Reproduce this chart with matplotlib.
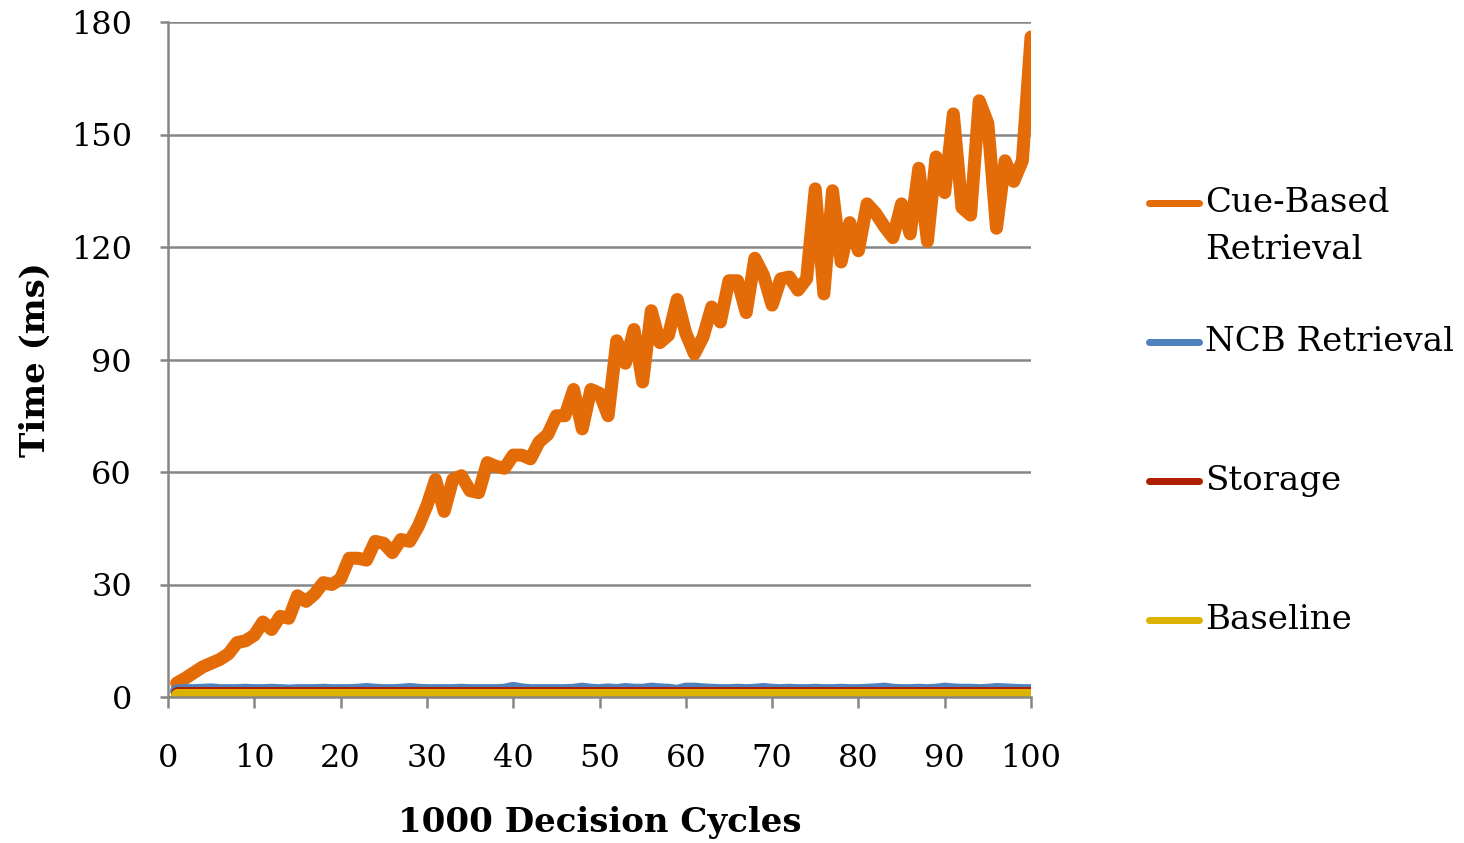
import matplotlib
matplotlib.use("Agg")
import matplotlib.pyplot as plt
from matplotlib.lines import Line2D

plt.rcParams['font.family'] = ['DejaVu Serif']

cycles = list(range(1, 101))

cue_based = [
    3.7, 5.0, 6.5, 8.0, 9.0, 10.0, 11.5, 14.5, 15.0, 16.5,
    20.0, 18.0, 21.5, 21.0, 27.0, 25.5, 27.5, 30.5, 30.0, 31.5,
    37.0, 37.0, 36.5, 41.5, 41.0, 38.5, 42.0, 41.5, 45.5, 51.0,
    58.0, 49.5, 58.0, 59.0, 55.0, 54.5, 62.5, 61.5, 61.0, 64.5,
    64.5, 63.5, 68.0, 70.0, 75.0, 75.0, 82.0, 71.5, 82.0, 81.0,
    75.0, 95.0, 89.0, 98.0, 84.0, 103.0, 94.5, 96.5, 106.0, 97.0,
    91.5, 96.0, 104.0, 100.0, 111.0, 111.0, 102.5, 117.0, 112.5, 104.5,
    111.5, 112.0, 108.5, 111.5, 135.5, 107.5, 135.0, 116.0, 126.5, 119.0,
    131.5, 129.0, 125.5, 122.5, 131.5, 123.5, 141.0, 121.5, 144.0, 134.5,
    155.5, 130.5, 128.5, 159.0, 153.0, 125.0, 143.0, 137.5, 143.0, 176.0,
]

ncb_retrieval = [
    1.6, 1.7, 1.7, 1.8, 1.9, 1.7, 1.7, 1.7, 1.8, 1.7,
    1.7, 1.8, 1.7, 1.6, 1.7, 1.7, 1.7, 1.8, 1.7, 1.7,
    1.7, 1.8, 2.0, 1.8, 1.7, 1.7, 1.8, 2.0, 1.8, 1.7,
    1.7, 1.7, 1.7, 1.8, 1.7, 1.7, 1.7, 1.7, 1.8, 2.3,
    1.9, 1.7, 1.7, 1.7, 1.7, 1.7, 1.8, 2.1, 1.8, 1.7,
    1.9, 1.7, 2.0, 1.8, 1.8, 2.1, 1.9, 1.8, 1.5, 2.1,
    2.1, 1.9, 1.8, 1.7, 1.7, 1.8, 1.7, 1.8, 2.0, 1.8,
    1.7, 1.8, 1.7, 1.7, 1.8, 1.7, 1.7, 1.8, 1.7, 1.7,
    1.8, 1.9, 2.1, 1.8, 1.7, 1.7, 1.8, 1.7, 1.8, 2.1,
    1.9, 1.8, 1.8, 1.7, 1.8, 2.0, 1.9, 1.8, 1.7, 1.7,
]

storage = [1.0] * 100
baseline = [0.5] * 100

series_labels = ["Cue-Based\nRetrieval", "NCB Retrieval", "Storage", "Baseline"]
series_colors = ["#E36C09", "#4F81BD", "#AE1F00", "#DBB300"]
series_values = [cue_based, ncb_retrieval, storage, baseline]

y_ticks = [0, 30, 60, 90, 120, 150, 180]
x_ticks = [0, 10, 20, 30, 40, 50, 60, 70, 80, 90, 100]

W, H = 1464, 843
fig = plt.figure(figsize=(W / 100, H / 100), dpi=100)
ax = fig.add_axes([168 / W, 1 - 697 / H, (1031 - 168) / W, (697 - 22) / H])

lw = 13 * 72 / 100
for vals, col in zip(series_values, series_colors):
    ax.plot(cycles, vals, color=col, lw=lw, solid_capstyle='round',
            solid_joinstyle='round')

grid_col = "#868686"
ax.set_xlim(0, 100)
ax.set_ylim(0, 180)
ax.set_yticks(y_ticks)
ax.set_xticks(x_ticks)
ax.yaxis.grid(True, color=grid_col, lw=1.8)
ax.set_axisbelow(True)
for s in ["top", "right"]:
    ax.spines[s].set_visible(False)
for s in ["left", "bottom"]:
    ax.spines[s].set_color(grid_col)
    ax.spines[s].set_linewidth(1.8)
ax.tick_params(axis='both', colors=grid_col, width=1.8, labelcolor='black',
               labelsize=23)
ax.tick_params(axis='x', length=8, pad=25)
ax.tick_params(axis='y', length=6, pad=20)

ax.set_xlabel("1000 Decision Cycles", fontsize=24.5, fontweight='bold', labelpad=23)
ax.set_ylabel("Time (ms)", fontsize=24.5, fontweight='bold', labelpad=14)

# legend (drawn manually to match spacing)
leg_y = [203, 342, 481, 620]
for lab, col, yy in zip(series_labels, series_colors, leg_y):
    fy = 1 - yy / H
    fig.add_artist(Line2D([1149 / W, 1199 / W], [fy, fy], color=col,
                          lw=7 * 72 / 100, solid_capstyle='round',
                          transform=fig.transFigure))
    fig.text(1205 / W, fy + 16 / H, lab, fontsize=24.5, va='top', ha='left',
             linespacing=1.6)

fig.savefig("out.png", dpi=100)
